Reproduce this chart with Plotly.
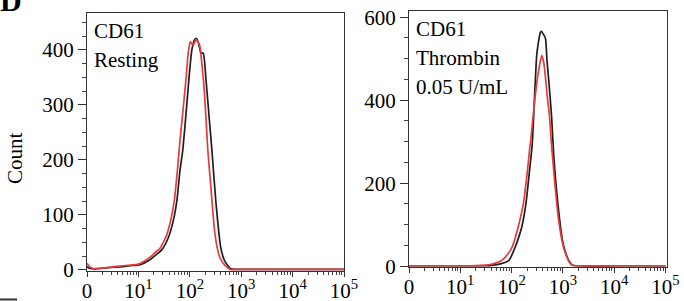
import math
import plotly.graph_objects as go

# ---------------- data ----------------
# x positions are in decades on the display axis (0, 10^1 ... 10^5 equally spaced)
tick_positions = [0, 1, 2, 3, 4, 5]
tick_labels = ["0", "10<sup>1</sup>", "10<sup>2</sup>", "10<sup>3</sup>", "10<sup>4</sup>", "10<sup>5</sup>"]

resting_black_x = [0, 0.05, 0.15, 0.4, 0.7, 0.9, 1.05, 1.2, 1.35, 1.45, 1.58, 1.68, 1.75, 1.81, 1.86, 1.90,
                   1.95, 1.99, 2.04, 2.09, 2.13, 2.17, 2.22, 2.26, 2.32, 2.38, 2.43, 2.51, 2.60, 2.67, 2.73,
                   2.80, 2.9, 3.5, 4.2, 5.0]
resting_black_y = [6, 3, 2, 4, 6, 8, 10, 17, 28, 36, 58, 90, 127, 182, 215, 255,
                   310, 355, 400, 418, 421, 412, 394, 394, 340, 273, 218, 121, 42, 18, 9,
                   2, 1, 1, 1, 1]

resting_red_x = [0, 0.03, 0.1, 0.3, 0.63, 0.89, 1.02, 1.15, 1.24, 1.34, 1.41, 1.54, 1.63, 1.70, 1.76, 1.81,
                 1.85, 1.93, 1.97, 2.01, 2.04, 2.07, 2.12, 2.16, 2.19, 2.24, 2.29, 2.35, 2.41, 2.48, 2.53,
                 2.58, 2.65, 2.71, 2.78, 3.0, 4.0, 5.0]
resting_red_y = [12, 8, 3, 3, 7, 9, 11, 18, 24, 33, 38, 61, 91, 127, 182, 236,
                 273, 351, 395, 415, 411, 409, 419, 414, 409, 370, 315, 218, 151, 73, 42,
                 24, 12, 6, 1, 1, 1, 1]

thrombin_black_x = [0, 1.2, 1.6, 1.8, 1.95, 2.07, 2.14, 2.20, 2.28, 2.35, 2.40, 2.43, 2.46, 2.49, 2.53, 2.56,
                    2.58, 2.61, 2.66, 2.69, 2.73, 2.78, 2.82, 2.87, 2.93, 2.99, 3.04, 3.09, 3.14, 3.19, 3.3,
                    4.0, 5.0]
thrombin_black_y = [1, 1, 2, 6, 14, 46, 70, 95, 151, 231, 290, 360, 440, 508, 545, 563,
                    566, 561, 549, 496, 440, 360, 271, 191, 119, 63, 38, 20, 8, 2, 1,
                    1, 1]

thrombin_red_x = [0, 1.0, 1.19, 1.45, 1.58, 1.70, 1.81, 1.92, 2.01, 2.07, 2.13, 2.23, 2.31, 2.35, 2.38, 2.43,
                  2.49, 2.55, 2.59, 2.63, 2.69, 2.74, 2.78, 2.85, 2.91, 2.98, 3.03, 3.08, 3.13, 3.18, 3.27,
                  4.0, 5.0]
thrombin_red_y = [1, 1, 1, 2, 4, 8, 14, 28, 46, 68, 95, 151, 231, 280, 311, 374,
                  440, 488, 508, 488, 416, 360, 290, 191, 119, 63, 38, 22, 9, 2, 1,
                  1, 1]

panel_labels = [["CD61", "Resting"], ["CD61", "Thrombin", "0.05 U/mL"]]
y_title = "Count"
panel_letter = "D"

# ---------------- layout helpers ----------------
W, H = 684, 301
FONT = "Liberation Serif"
BLACK = "#1e1e1e"
RED = "#e83a3a"


def px_x(p):
    return p / W


def px_y(p):
    return 1 - p / H


minor_vals = [d + math.log10(k) for d in range(5) for k in range(2, 10)]

fig = go.Figure()

series = [
    (resting_black_x, resting_black_y, BLACK, "x", "y"),
    (resting_red_x, resting_red_y, RED, "x", "y"),
    (thrombin_black_x, thrombin_black_y, BLACK, "x2", "y2"),
    (thrombin_red_x, thrombin_red_y, RED, "x2", "y2"),
]
for xs, ys, col, xa, ya in series:
    fig.add_trace(go.Scatter(x=xs, y=ys, mode="lines", xaxis=xa, yaxis=ya,
                             line=dict(color=col, width=1.7, shape="spline", smoothing=0.6),
                             showlegend=False, hoverinfo="skip"))

tickfont = dict(family=FONT, size=21, color="black")
axis_common = dict(showgrid=False, zeroline=False, showline=True, linecolor="#333", linewidth=1,
                   mirror=True, ticks="outside", tickcolor="#333", tickfont=tickfont, automargin=False)

xaxis_common = dict(axis_common, ticklen=5, tickmode="array", tickvals=tick_positions, ticktext=tick_labels,
                    ticklabelstandoff=-4,
                    minor=dict(tickmode="array", tickvals=minor_vals, ticks="outside", ticklen=3,
                               tickcolor="#444"))
yaxis_common = dict(axis_common, ticklen=8)

fig.update_layout(
    width=W, height=H, margin=dict(l=0, r=0, t=0, b=0, autoexpand=False),
    paper_bgcolor="white", plot_bgcolor="white",
    font=dict(family=FONT),
    xaxis=dict(xaxis_common, domain=[px_x(87), px_x(344)], range=[0, 5.0], anchor="y"),
    yaxis=dict(yaxis_common, domain=[px_y(271), px_y(13)], range=[-2, 467], anchor="x",
               tickvals=[0, 100, 200, 300, 400],
               minor=dict(dtick=25, tick0=0, ticks="outside", ticklen=4, tickcolor="#444")),
    xaxis2=dict(xaxis_common, domain=[px_x(409), px_x(667)], range=[0, 5.03], anchor="y2"),
    yaxis2=dict(yaxis_common, domain=[px_y(267), px_y(11)], range=[-2, 615], anchor="x2",
                tickvals=[0, 200, 400, 600],
                minor=dict(dtick=50, tick0=0, ticks="outside", ticklen=4, tickcolor="#444")),
)

annotations = []
# panel texts
for i, lines in enumerate(panel_labels):
    x0 = 92 if i == 0 else 414
    top = 17 if i == 0 else 15
    for j, t in enumerate(lines):
        annotations.append(dict(text=t, xref="paper", yref="paper", x=px_x(x0), y=px_y(top + j * 29),
                                xanchor="left", yanchor="top", showarrow=False,
                                font=dict(family=FONT, size=21, color="black")))
# y title
annotations.append(dict(text=y_title, xref="paper", yref="paper", x=px_x(15), y=px_y(158),
                        xanchor="center", yanchor="middle", textangle=-90, showarrow=False,
                        font=dict(family=FONT, size=21, color="black")))
# panel letter (cut off at the top)
annotations.append(dict(text="<b>" + panel_letter + "</b>", xref="paper", yref="paper", x=px_x(-2),
                        y=px_y(19), xanchor="left", yanchor="bottom", showarrow=False,
                        font=dict(family=FONT, size=30, color="black")))
fig.update_layout(annotations=annotations)

# small cut-off stroke at lower left
fig.add_shape(type="line", xref="paper", yref="paper", x0=0, x1=px_x(17), y0=px_y(299.5), y1=px_y(299.5),
              line=dict(color="#333", width=2))

fig.write_html("out.html", config={"displayModeBar": False},
               post_script="document.body.style.margin='0px';")
